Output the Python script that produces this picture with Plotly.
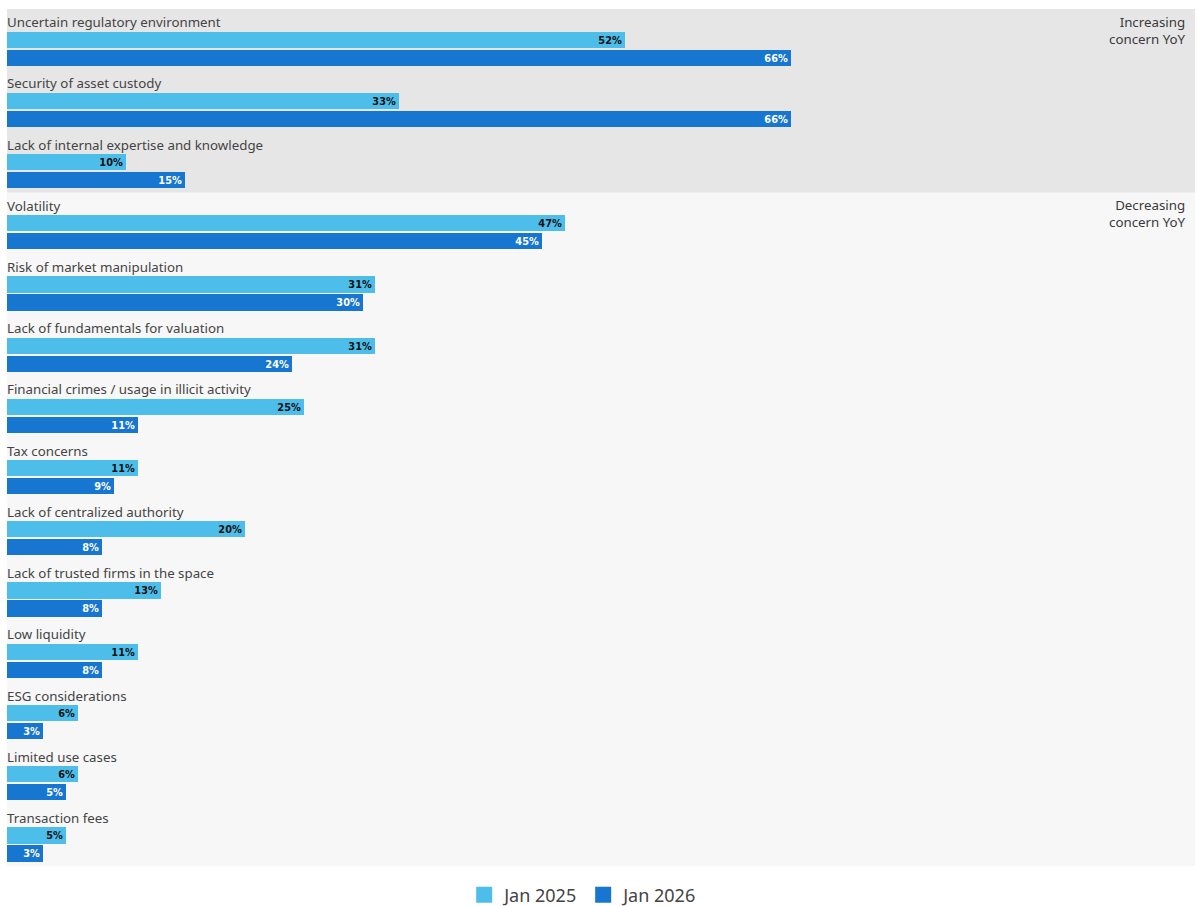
import plotly.graph_objects as go

categories = [
    "Uncertain regulatory environment",
    "Security of asset custody",
    "Lack of internal expertise and knowledge",
    "Volatility",
    "Risk of market manipulation",
    "Lack of fundamentals for valuation",
    "Financial crimes / usage in illicit activity",
    "Tax concerns",
    "Lack of centralized authority",
    "Lack of trusted firms in the space",
    "Low liquidity",
    "ESG considerations",
    "Limited use cases",
    "Transaction fees",
]
jan_2025 = [52, 33, 10, 47, 31, 31, 25, 11, 20, 13, 11, 6, 6, 5]
jan_2026 = [66, 66, 15, 45, 30, 24, 11, 9, 8, 8, 8, 3, 5, 3]
series_names = ["Jan 2025", "Jan 2026"]
group_names = ["Increasing<br>concern YoY", "Decreasing<br>concern YoY"]
group_sizes = [3, 11]

C25 = "#4DBDE9"
C26 = "#1776D0"
n = len(categories)
idx = list(range(n))

fig = go.Figure()
fig.add_trace(go.Bar(
    name=series_names[0], orientation="h",
    x=jan_2025, y=[i + 0.50 for i in idx], width=0.265,
    marker=dict(color=C25, line=dict(width=0)),
    text=[f"{v}%" for v in jan_2025], textposition="inside",
    insidetextanchor="end", constraintext="none",
    textfont=dict(family="DejaVu Sans", size=9.8, color="#111111", weight="bold"),
    hoverinfo="skip", showlegend=False,
))
fig.add_trace(go.Bar(
    name=series_names[1], orientation="h",
    x=jan_2026, y=[i + 0.795 for i in idx], width=0.265,
    marker=dict(color=C26, line=dict(width=0)),
    text=[f"{v}%" for v in jan_2026], textposition="inside",
    insidetextanchor="end", constraintext="none",
    textfont=dict(family="DejaVu Sans", size=9.8, color="#ffffff", weight="bold"),
    hoverinfo="skip", showlegend=False,
))
# legend entries with larger square swatches
for name, col in zip(series_names, [C25, C26]):
    fig.add_trace(go.Scatter(
        x=[None], y=[None], mode="markers", name=name,
        marker=dict(symbol="square", size=16, color=col), hoverinfo="skip",
    ))

start = 0
fills = ["#E6E6E6", "#F7F7F7"]
for g, (name, size) in enumerate(zip(group_names, group_sizes)):
    fig.add_shape(type="rect", xref="paper", yref="y", x0=0, x1=1,
                  y0=start, y1=start + size, fillcolor=fills[g],
                  line=dict(width=0), layer="below")
    fig.add_annotation(xref="paper", yref="y", x=0.994, y=start + 0.025,
                       text=name, showarrow=False, xanchor="right",
                       yanchor="top", align="right",
                       font=dict(family="Noto Sans", size=13.3, color="#3a3a3a"))
    start += size

for i, c in enumerate(categories):
    fig.add_annotation(x=0, y=i + 0.215, xref="x", yref="y", text=c,
                       showarrow=False, xanchor="left", yanchor="middle",
                       xshift=-2,
                       font=dict(family="Noto Sans", size=13.3, color="#444444"))

fig.update_layout(
    width=1199, height=906,
    margin=dict(l=7, r=4, t=9, b=40, autoexpand=False),
    paper_bgcolor="white", plot_bgcolor="rgba(0,0,0,0)",
    barmode="overlay", bargap=0,
    showlegend=True,
    legend=dict(orientation="h", x=0.485, xanchor="center",
                yref="container", y=0.012, yanchor="middle",
                font=dict(family="Noto Sans", size=18, color="#444444"),
                itemwidth=30, tracegroupgap=0,
                bgcolor="rgba(0,0,0,0)"),
    xaxis=dict(range=[0, 100], visible=False, fixedrange=True),
    yaxis=dict(range=[n, 0], visible=False, fixedrange=True),
)

fig.write_html("out.html")
